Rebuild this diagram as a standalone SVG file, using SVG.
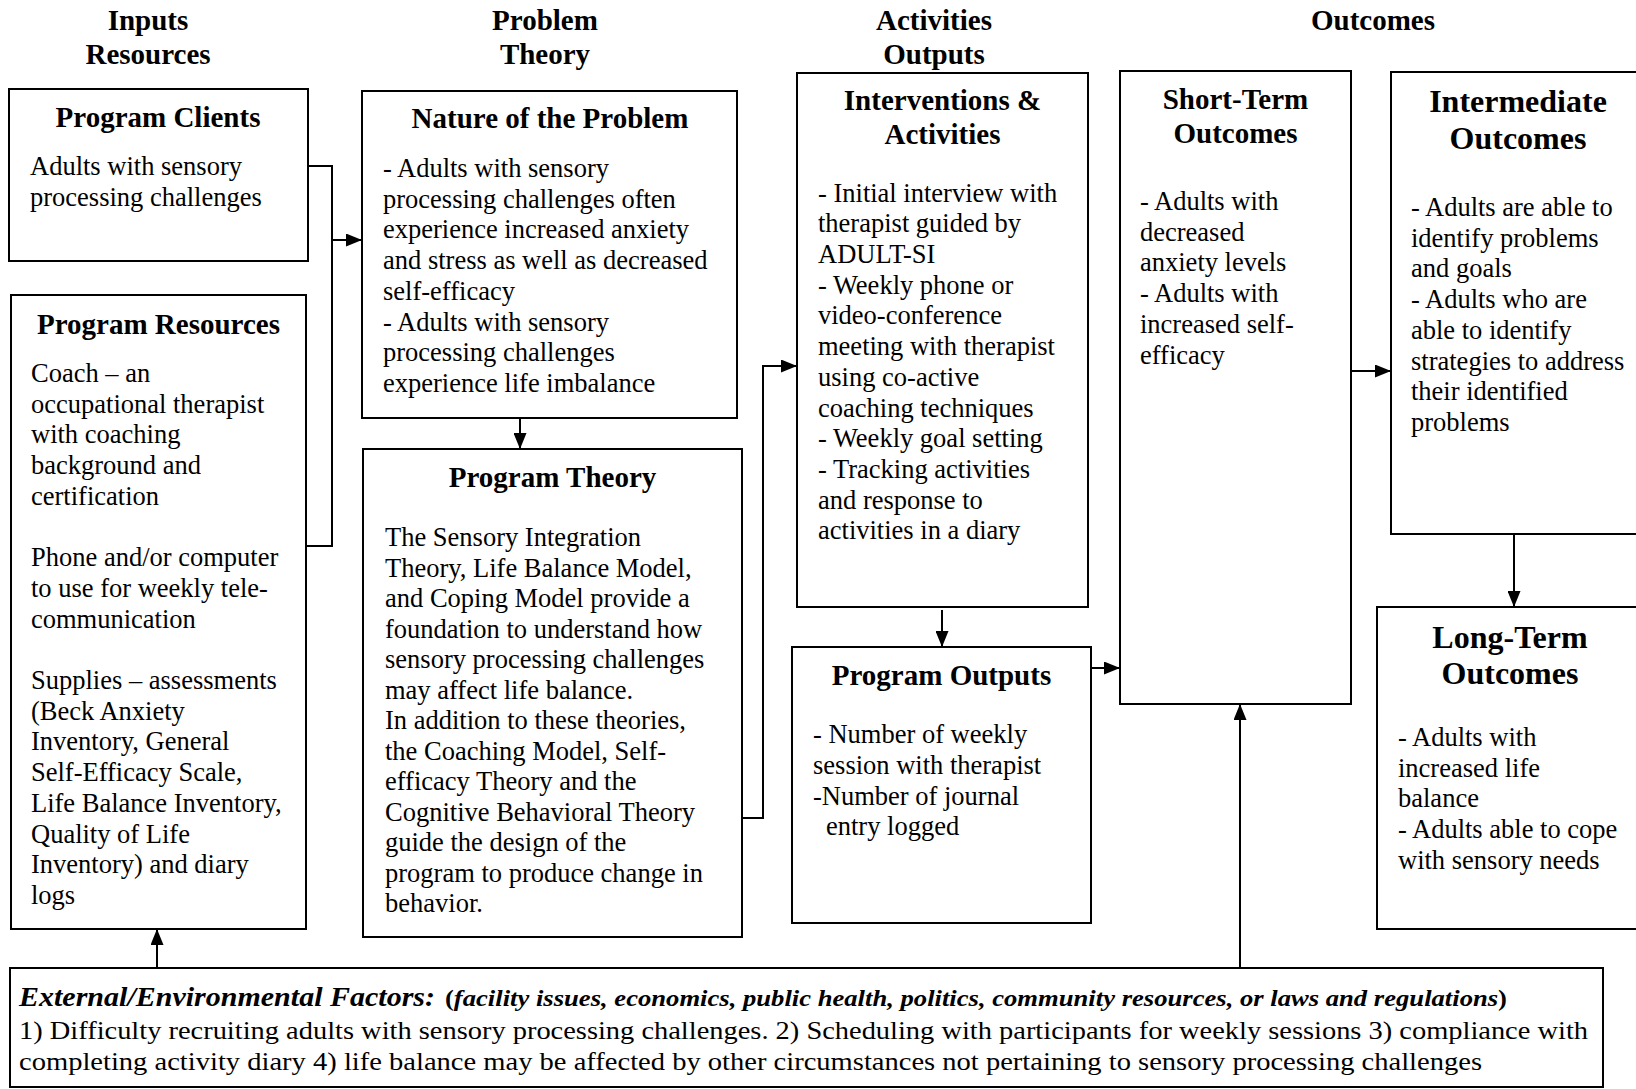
<svg xmlns="http://www.w3.org/2000/svg" width="1636" height="1089" viewBox="0 0 1636 1089">
<defs>
<style>
.box{fill:#fff;stroke:#000;stroke-width:2}
.hd{font-family:"Liberation Serif","Times New Roman",serif;font-weight:bold;font-size:29px;text-anchor:middle;fill:#000}
.tt{font-family:"Liberation Serif","Times New Roman",serif;font-weight:bold;font-size:29px;text-anchor:middle;fill:#000}
.tl{font-family:"Liberation Serif","Times New Roman",serif;font-weight:bold;font-size:32px;text-anchor:middle;fill:#000}
.bd{font-family:"Liberation Serif","Times New Roman",serif;font-size:26.5px;fill:#000}
.ex{font-family:"Liberation Serif","Times New Roman",serif;font-size:26px;fill:#000}
.exh{font-family:"Liberation Serif","Times New Roman",serif;font-weight:bold;font-style:italic;fill:#000}
.cn{fill:none;stroke:#000;stroke-width:2}
</style>
<marker id="ah" markerWidth="16" markerHeight="13" refX="16" refY="6.5" orient="auto" markerUnits="userSpaceOnUse">
<path d="M0,0 L16,6.5 L0,13 z" fill="#000"/>
</marker>
</defs>
<rect width="1636" height="1089" fill="#fff"/>

<g id="headings">
<text class="hd" x="148" y="30">Inputs</text>
<text class="hd" x="148" y="64">Resources</text>
<text class="hd" x="545" y="30">Problem</text>
<text class="hd" x="545" y="64">Theory</text>
<text class="hd" x="934" y="30">Activities</text>
<text class="hd" x="934" y="64">Outputs</text>
<text class="hd" x="1373" y="30">Outcomes</text>
</g>

<g id="connectors">
<polyline class="cn" points="308,166 332,166 332,546 306,546"/>
<line class="cn" x1="332" y1="240" x2="362" y2="240" marker-end="url(#ah)"/>
<line class="cn" x1="520" y1="418" x2="520" y2="449" marker-end="url(#ah)"/>
<polyline class="cn" points="742,818 763,818 763,366 797,366" marker-end="url(#ah)"/>
<line class="cn" x1="942" y1="610" x2="942" y2="647" marker-end="url(#ah)"/>
<line class="cn" x1="1091" y1="668" x2="1120" y2="668" marker-end="url(#ah)"/>
<line class="cn" x1="1351" y1="371" x2="1391" y2="371" marker-end="url(#ah)"/>
<line class="cn" x1="1514" y1="534" x2="1514" y2="607" marker-end="url(#ah)"/>
<line class="cn" x1="1240" y1="968" x2="1240" y2="704" marker-end="url(#ah)"/>
<line class="cn" x1="157" y1="968" x2="157" y2="929" marker-end="url(#ah)"/>
</g>

<g id="program-clients">
<rect class="box" x="9" y="89" width="299" height="172"/>
<text class="tt" x="158" y="127">Program Clients</text>
<text class="bd" x="30" y="175">Adults with sensory</text>
<text class="bd" x="30" y="206">processing challenges</text>
</g>

<g id="program-resources">
<rect class="box" x="11" y="295" width="295" height="634"/>
<text class="tt" x="158.5" y="334">Program Resources</text>
<text class="bd" x="31">
<tspan x="31" y="382">Coach – an</tspan>
<tspan x="31" y="412.7">occupational therapist</tspan>
<tspan x="31" y="443.4">with coaching</tspan>
<tspan x="31" y="474.1">background and</tspan>
<tspan x="31" y="504.8">certification</tspan>
<tspan x="31" y="566.2">Phone and/or computer</tspan>
<tspan x="31" y="596.9">to use for weekly tele-</tspan>
<tspan x="31" y="627.6">communication</tspan>
<tspan x="31" y="689">Supplies – assessments</tspan>
<tspan x="31" y="719.7">(Beck Anxiety</tspan>
<tspan x="31" y="750.4">Inventory, General</tspan>
<tspan x="31" y="781.1">Self-Efficacy Scale,</tspan>
<tspan x="31" y="811.8">Life Balance Inventory,</tspan>
<tspan x="31" y="842.5">Quality of Life</tspan>
<tspan x="31" y="873.2">Inventory) and diary</tspan>
<tspan x="31" y="903.9">logs</tspan>
</text>
</g>

<g id="nature-of-problem">
<rect class="box" x="362" y="91" width="375" height="327"/>
<text class="tt" x="550" y="128">Nature of the Problem</text>
<text class="bd">
<tspan x="383" y="177">- Adults with sensory</tspan>
<tspan x="383" y="207.7">processing challenges often</tspan>
<tspan x="383" y="238.4">experience increased anxiety</tspan>
<tspan x="383" y="269.1">and stress as well as decreased</tspan>
<tspan x="383" y="299.8">self-efficacy</tspan>
<tspan x="383" y="330.5">- Adults with sensory</tspan>
<tspan x="383" y="361.2">processing challenges</tspan>
<tspan x="383" y="391.9">experience life imbalance</tspan>
</text>
</g>

<g id="program-theory">
<rect class="box" x="363" y="449" width="379" height="488"/>
<text class="tt" x="552.5" y="487">Program Theory</text>
<text class="bd">
<tspan x="385" y="546">The Sensory Integration</tspan>
<tspan x="385" y="576.5">Theory, Life Balance Model,</tspan>
<tspan x="385" y="607">and Coping Model provide a</tspan>
<tspan x="385" y="637.5">foundation to understand how</tspan>
<tspan x="385" y="668">sensory processing challenges</tspan>
<tspan x="385" y="698.5">may affect life balance.</tspan>
<tspan x="385" y="729">In addition to these theories,</tspan>
<tspan x="385" y="759.5">the Coaching Model, Self-</tspan>
<tspan x="385" y="790">efficacy Theory and the</tspan>
<tspan x="385" y="820.5">Cognitive Behavioral Theory</tspan>
<tspan x="385" y="851">guide the design of the</tspan>
<tspan x="385" y="881.5">program to produce change in</tspan>
<tspan x="385" y="912">behavior.</tspan>
</text>
</g>

<g id="interventions">
<rect class="box" x="797" y="73" width="291" height="534"/>
<text class="tt" x="942.5" y="110">Interventions &amp;</text>
<text class="tt" x="942.5" y="144">Activities</text>
<text class="bd">
<tspan x="818" y="201.6">- Initial interview with</tspan>
<tspan x="818" y="232.3">therapist guided by</tspan>
<tspan x="818" y="263">ADULT-SI</tspan>
<tspan x="818" y="293.7">- Weekly phone or</tspan>
<tspan x="818" y="324.4">video-conference</tspan>
<tspan x="818" y="355.1">meeting with therapist</tspan>
<tspan x="818" y="385.8">using co-active</tspan>
<tspan x="818" y="416.5">coaching techniques</tspan>
<tspan x="818" y="447.2">- Weekly goal setting</tspan>
<tspan x="818" y="477.9">- Tracking activities</tspan>
<tspan x="818" y="508.6">and response to</tspan>
<tspan x="818" y="539.3">activities in a diary</tspan>
</text>
</g>

<g id="program-outputs">
<rect class="box" x="792" y="647" width="299" height="276"/>
<text class="tt" x="941.5" y="685">Program Outputs</text>
<text class="bd">
<tspan x="813" y="743">- Number of weekly</tspan>
<tspan x="813" y="773.5">session with therapist</tspan>
<tspan x="813" y="804.5">-Number of journal</tspan>
<tspan x="826" y="835">entry logged</tspan>
</text>
</g>

<g id="short-term">
<rect class="box" x="1120" y="71" width="231" height="633"/>
<text class="tt" x="1235.5" y="109">Short-Term</text>
<text class="tt" x="1235.5" y="143">Outcomes</text>
<text class="bd">
<tspan x="1140" y="210">- Adults with</tspan>
<tspan x="1140" y="240.7">decreased</tspan>
<tspan x="1140" y="271.4">anxiety levels</tspan>
<tspan x="1140" y="302.1">- Adults with</tspan>
<tspan x="1140" y="332.8">increased self-</tspan>
<tspan x="1140" y="363.5">efficacy</tspan>
</text>
</g>

<g id="intermediate">
<rect class="box" x="1391" y="72" width="256" height="462"/>
<text class="tl" x="1518" y="112">Intermediate</text>
<text class="tl" x="1518" y="149">Outcomes</text>
<text class="bd">
<tspan x="1411" y="216">- Adults are able to</tspan>
<tspan x="1411" y="246.7">identify problems</tspan>
<tspan x="1411" y="277.4">and goals</tspan>
<tspan x="1411" y="308.1">- Adults who are</tspan>
<tspan x="1411" y="338.8">able to identify</tspan>
<tspan x="1411" y="369.5">strategies to address</tspan>
<tspan x="1411" y="400.2">their identified</tspan>
<tspan x="1411" y="430.9">problems</tspan>
</text>
</g>

<g id="long-term">
<rect class="box" x="1377" y="607" width="270" height="322"/>
<text class="tl" x="1510" y="647.5">Long-Term</text>
<text class="tl" x="1510" y="684">Outcomes</text>
<text class="bd">
<tspan x="1398" y="746">- Adults with</tspan>
<tspan x="1398" y="776.7">increased life</tspan>
<tspan x="1398" y="807.4">balance</tspan>
<tspan x="1398" y="838.1">- Adults able to cope</tspan>
<tspan x="1398" y="868.8">with sensory needs</tspan>
</text>
</g>

<g id="external-factors">
<rect class="box" x="10" y="968" width="1593" height="119"/>
<text class="exh" x="19" y="1006" font-size="28" textLength="416" lengthAdjust="spacingAndGlyphs">External/Environmental Factors:</text>
<text class="exh" x="445" y="1006" font-size="24" textLength="1062" lengthAdjust="spacingAndGlyphs"><tspan font-style="normal">(</tspan>facility issues, economics, public health, politics, community resources, or laws and regulations<tspan font-style="normal">)</tspan></text>
<text class="ex" x="19" y="1039" textLength="1569" lengthAdjust="spacingAndGlyphs">1) Difficulty recruiting adults with sensory processing challenges. 2) Scheduling with participants for weekly sessions 3) compliance with</text>
<text class="ex" x="19" y="1070" textLength="1463" lengthAdjust="spacingAndGlyphs">completing activity diary 4) life balance may be affected by other circumstances not pertaining to sensory processing challenges</text>
</g>
</svg>
